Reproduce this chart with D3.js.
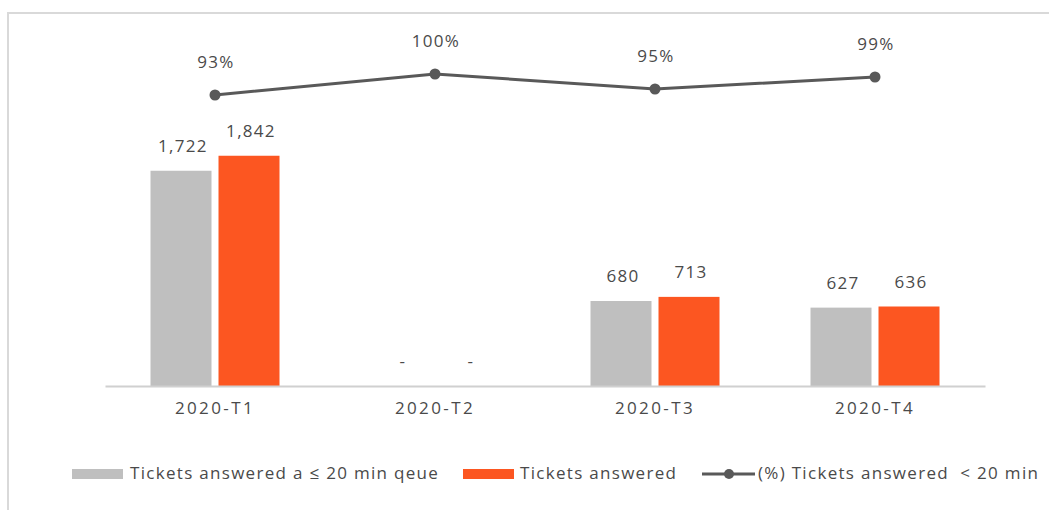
<!DOCTYPE html>
<html>
<head>
<meta charset="utf-8">
<script src="https://cdn.jsdelivr.net/npm/d3@7"></script>
<style>
  body { margin: 0; background: #fff; }
  text { font-family: "Open Sans", "Noto Sans", sans-serif; }
</style>
</head>
<body>
<script>
// data
var quarters = ["2020-T1", "2020-T2", "2020-T3", "2020-T4"]
var answered20 = [1722, 0, 680, 627]
var answered = [1842, 0, 713, 636]
var pctAnswered = [0.93, 1.00, 0.95, 0.99]
var seriesNames = ["Tickets answered a \u2264 20 min qeue", "Tickets answered", "(%) Tickets answered  < 20 min"]
var barColors = ["#bfbfbf", "#fc5621"]

var w = 1049, h = 519
var textColor = "#4a4a4a"
var lineColor = "#595959"
var fontSize = "17px"
var spacing = "1.3px"

var svg = d3.select("body").append("svg")
  .attr("width", w)
  .attr("height", h)

// light frame on the top and left side
svg.append("path")
  .attr("d", "M8,510 V13 H1049")
  .attr("fill", "none")
  .attr("stroke", "#d9d9d9")
  .attr("stroke-width", 2)

// scales
var x = d3.scaleBand().domain(quarters).range([105, 985])
var x1 = d3.scaleBand().domain([0, 1]).range([45.5, 174.5]).paddingInner(0.103)
var y = d3.scaleLinear().domain([0, 2000]).range([386, 136])
var y2 = d3.scaleLinear().domain([0, 1]).range([374, 74])

// bars
var barData = []
quarters.forEach(function(q, i) {
  barData.push({q: q, s: 0, v: answered20[i]})
  barData.push({q: q, s: 1, v: answered[i]})
})

svg.append("g").selectAll("rect")
  .data(barData)
  .enter()
  .append("rect")
  .attr("x", function(d) { return x(d.q) + x1(d.s) })
  .attr("y", function(d) { return y(d.v) })
  .attr("width", x1.bandwidth())
  .attr("height", function(d) { return y(0) - y(d.v) })
  .attr("fill", function(d) { return barColors[d.s] })

// bar value labels ("-" for zero)
svg.append("g").selectAll("text")
  .data(barData)
  .enter()
  .append("text")
  .attr("x", function(d) { return x(d.q) + x1(d.s) + x1.bandwidth() / 2 + 2 })
  .attr("y", function(d) { return y(d.v) - 19 })
  .attr("text-anchor", "middle")
  .style("font-size", fontSize)
  .style("letter-spacing", spacing)
  .attr("fill", textColor)
  .text(function(d) { return d.v === 0 ? "-" : d3.format(",")(d.v) })

// x axis
var xAxis = svg.append("g")
  .attr("transform", "translate(0," + y(0) + ")")
  .call(d3.axisBottom(x).tickSize(0).tickPadding(16))
xAxis.select(".domain").attr("stroke", "#d0d0d0").attr("stroke-width", 2)
xAxis.selectAll("text")
  .style("font-size", fontSize)
  .style("letter-spacing", "2.4px")
  .style("font-family", "'Open Sans', sans-serif")
  .attr("fill", textColor)

// percentage line
var line = d3.line()
  .x(function(d, i) { return x(quarters[i]) + x.bandwidth() / 2 })
  .y(function(d) { return y2(d) })

svg.append("path")
  .datum(pctAnswered)
  .attr("d", line)
  .attr("fill", "none")
  .attr("stroke", lineColor)
  .attr("stroke-width", 3)

svg.append("g").selectAll("circle")
  .data(pctAnswered)
  .enter()
  .append("circle")
  .attr("cx", function(d, i) { return x(quarters[i]) + x.bandwidth() / 2 })
  .attr("cy", function(d) { return y2(d) })
  .attr("r", 5.5)
  .attr("fill", lineColor)

svg.append("g").selectAll("text")
  .data(pctAnswered)
  .enter()
  .append("text")
  .attr("x", function(d, i) { return x(quarters[i]) + x.bandwidth() / 2 + 1 })
  .attr("y", function(d) { return y2(d) - 27 })
  .attr("text-anchor", "middle")
  .style("font-size", fontSize)
  .style("letter-spacing", spacing)
  .attr("fill", textColor)
  .text(function(d) { return d3.format(".0%")(d) })

// legend
var legend = svg.append("g").attr("transform", "translate(0,474)")

legend.append("rect").attr("x", 72).attr("y", -5).attr("width", 51).attr("height", 10).attr("fill", barColors[0])
legend.append("text").attr("x", 130).attr("y", 5).text(seriesNames[0])

legend.append("rect").attr("x", 463).attr("y", -5).attr("width", 51).attr("height", 10).attr("fill", barColors[1])
legend.append("text").attr("x", 520).attr("y", 5).text(seriesNames[1])

legend.append("line").attr("x1", 702).attr("x2", 755).attr("y1", 0).attr("y2", 0)
  .attr("stroke", lineColor).attr("stroke-width", 3)
legend.append("circle").attr("cx", 729).attr("cy", 0).attr("r", 5).attr("fill", lineColor)
legend.append("text").attr("x", 758).attr("y", 5).style("white-space", "pre").text(seriesNames[2])

legend.selectAll("text")
  .style("font-size", fontSize)
  .style("letter-spacing", spacing)
  .attr("fill", textColor)
</script>
</body>
</html>
